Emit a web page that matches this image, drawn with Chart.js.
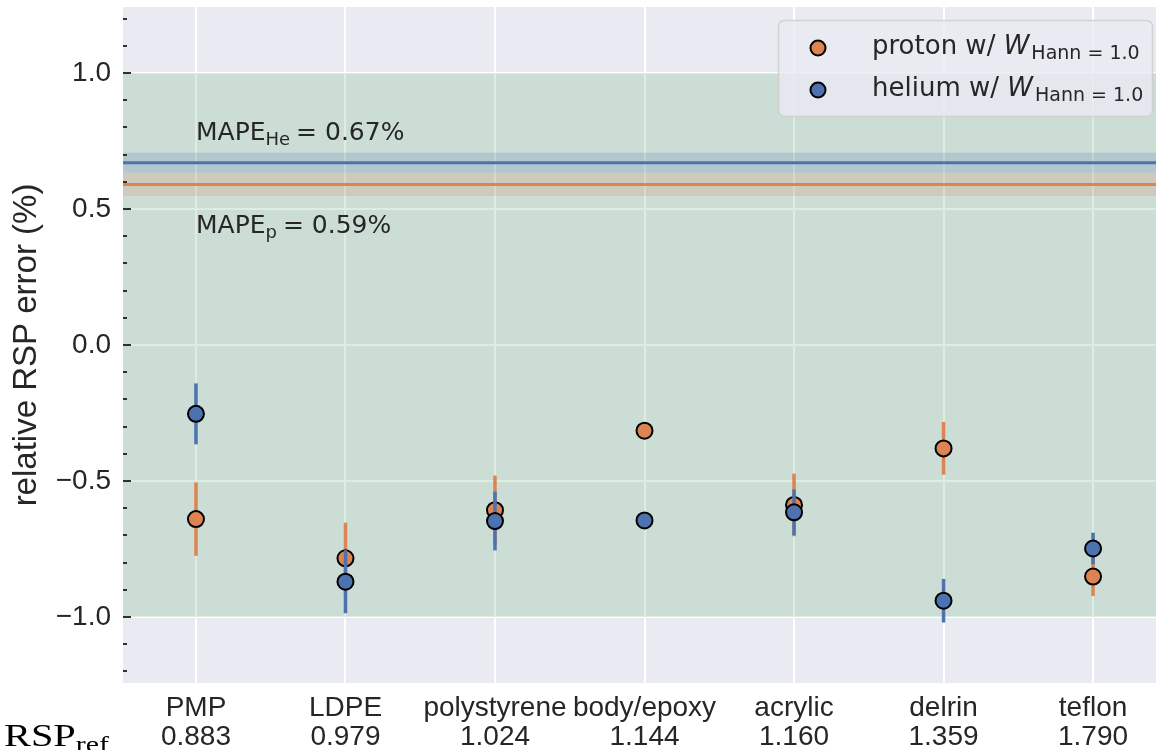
<!DOCTYPE html>
<html>
<head>
<meta charset="utf-8">
<script src="https://cdn.jsdelivr.net/npm/chart.js@4.4.1/dist/chart.umd.min.js"></script>
<style>
  html, body { margin: 0; padding: 0; background: #ffffff; }
  #wrap { width: 1156px; height: 750px; position: relative; }
</style>
</head>
<body>
<div id="wrap"><canvas id="chart" width="1156" height="750"></canvas></div>
<script>
// Phantom materials and their reference relative stopping power
const materials = ['PMP', 'LDPE', 'polystyrene', 'body/epoxy', 'acrylic', 'delrin', 'teflon'];
const rspRef = ['0.883', '0.979', '1.024', '1.144', '1.160', '1.359', '1.790'];

// Relative RSP error (%) and its uncertainty for each beam species
const protonError = [-0.640, -0.784, -0.607, -0.315, -0.588, -0.380, -0.851];
const protonUnc   = [0.135, 0.131, 0.127, 0.015, 0.115, 0.097, 0.072];
const heliumError = [-0.253, -0.870, -0.647, -0.645, -0.615, -0.940, -0.748];
const heliumUnc   = [0.112, 0.116, 0.108, 0.015, 0.084, 0.080, 0.058];

// Mean absolute percentage error per species and its spread
const mapeProton = 0.59;
const mapeProtonSpread = 0.042;
const mapeHelium = 0.67;
const mapeHeliumSpread = 0.037;

// Clinical tolerance band and axis ticks
const toleranceBand = [-1.0, 1.0];
const yTicks = [-1.0, -0.5, 0.0, 0.5, 1.0];
const yMinorStep = 0.1;

const seriesNames = ['proton', 'helium'];
const windowLabel = 'Hann = 1.0';

const ORANGE = '#DD8452';
const BLUE = '#4C72B0';
const TEXT = '#262626';
const SANS = '"Liberation Sans", Arial, sans-serif';
const MATH = '"DejaVu Sans", sans-serif';
const SERIF = '"Liberation Serif", "DejaVu Serif", serif';

const minus = s => s.replace('-', '\u2212');

// draw a run of text pieces (regular / subscript / italic) left to right
function drawRuns(ctx, x, y, runs, sx = 1) {
  ctx.textAlign = 'left';
  ctx.textBaseline = 'alphabetic';
  for (const r of runs) {
    ctx.font = r.font;
    ctx.save();
    ctx.translate(x, y + (r.dy || 0));
    ctx.scale(sx, 1);
    ctx.fillText(r.t, 0, 0);
    ctx.restore();
    x += (ctx.measureText(r.t).width + (r.gap || 0)) * sx;
  }
  return x;
}

const noAutoPadding = s => {
  s.paddingTop = 0; s.paddingBottom = 0; s.paddingLeft = 0; s.paddingRight = 0;
};

const backgroundPlugin = {
  id: 'panelBackground',
  beforeDraw(chart) {
    const { ctx, chartArea: a } = chart;
    ctx.save();
    ctx.fillStyle = '#ffffff';
    ctx.fillRect(0, 0, chart.width, chart.height);
    ctx.fillStyle = '#EAEAF2';
    ctx.fillRect(a.left, a.top, a.right - a.left, a.bottom - a.top);
    ctx.restore();
  }
};

const bandsPlugin = {
  id: 'bands',
  beforeDatasetsDraw(chart) {
    const { ctx, chartArea: a, scales: { y } } = chart;
    ctx.save();
    ctx.beginPath();
    ctx.rect(a.left, a.top, a.right - a.left, a.bottom - a.top);
    ctx.clip();
    const hband = (lo, hi, color) => {
      const y1 = y.getPixelForValue(hi), y2 = y.getPixelForValue(lo);
      ctx.fillStyle = color;
      ctx.fillRect(a.left, y1, a.right - a.left, y2 - y1);
    };
    hband(toleranceBand[0], toleranceBand[1], 'rgba(85,168,104,0.2)');
    hband(mapeHelium - mapeHeliumSpread, mapeHelium + mapeHeliumSpread, 'rgba(76,114,176,0.2)');
    hband(mapeProton - mapeProtonSpread, mapeProton + mapeProtonSpread, 'rgba(221,132,82,0.2)');
    const hline = (v, color) => {
      const py = y.getPixelForValue(v);
      ctx.strokeStyle = color;
      ctx.lineWidth = 3;
      ctx.beginPath();
      ctx.moveTo(a.left, py);
      ctx.lineTo(a.right, py);
      ctx.stroke();
    };
    hline(mapeHelium, BLUE);
    hline(mapeProton, ORANGE);
    ctx.restore();
  },
  afterDatasetsDraw(chart) {
    const { ctx, chartArea: a, scales: { x, y } } = chart;
    ctx.save();
    // minor and major tick marks along the left edge
    ctx.strokeStyle = '#2b312b';
    ctx.lineWidth = 2;
    for (let k = -12; k <= 12; k++) {
      const v = k * yMinorStep;
      const py = Math.round(y.getPixelForValue(v));
      const major = k % 5 === 0;
      ctx.beginPath();
      ctx.moveTo(a.left, py);
      ctx.lineTo(a.left + (major ? 8 : 4), py);
      ctx.stroke();
    }
    // MAPE annotations
    ctx.fillStyle = TEXT;
    const x0 = x.getPixelForValue(0);
    drawRuns(ctx, x0, y.getPixelForValue(mapeHelium) - 23, [
      { t: 'MAPE', font: '25px ' + MATH },
      { t: 'He', font: '18px ' + MATH, dy: 5, gap: 6 },
      { t: '= ' + mapeHelium.toFixed(2) + '%', font: '25px ' + MATH }
    ]);
    drawRuns(ctx, x0, y.getPixelForValue(mapeProton) + 49, [
      { t: 'MAPE', font: '25px ' + MATH },
      { t: 'p', font: '18px ' + MATH, dy: 5, gap: 6 },
      { t: '= ' + mapeProton.toFixed(2) + '%', font: '25px ' + MATH }
    ]);
    ctx.restore();
  },
  afterDraw(chart) {
    const { ctx } = chart;
    ctx.save();
    // legend
    const lx = 778.5, ly = 20.5, lw = 374, lh = 96;
    ctx.beginPath();
    ctx.roundRect(lx, ly, lw, lh, 6);
    ctx.fillStyle = 'rgba(234,234,242,0.8)';
    ctx.fill();
    ctx.strokeStyle = 'rgba(204,204,204,0.8)';
    ctx.lineWidth = 1.5;
    ctx.stroke();
    const colors = [ORANGE, BLUE];
    seriesNames.forEach((name, i) => {
      const cy = 48 + i * 42;
      ctx.beginPath();
      ctx.arc(818, cy, 7.5, 0, Math.PI * 2);
      ctx.fillStyle = colors[i];
      ctx.fill();
      ctx.lineWidth = 2;
      ctx.strokeStyle = '#000';
      ctx.stroke();
      ctx.fillStyle = TEXT;
      drawRuns(ctx, 872, cy + 6, [
        { t: name + ' w/ ', font: '26px ' + MATH },
        { t: 'W', font: 'italic 26px ' + MATH, gap: 2 },
        { t: windowLabel, font: '19px ' + MATH, dy: 5 }
      ]);
    });
    // reference RSP row caption
    ctx.fillStyle = '#000';
    drawRuns(ctx, 4, 746, [
      { t: 'RSP', font: '31px ' + SERIF },
      { t: 'ref', font: '23px ' + SERIF, dy: 6 }
    ], 1.3);
    ctx.restore();
  }
};

const errorBarPlugin = {
  id: 'errorBars',
  beforeDatasetDraw(chart, args) {
    const { ctx, chartArea: a, scales: { x, y } } = chart;
    const ds = chart.data.datasets[args.index];
    ctx.save();
    ctx.beginPath();
    ctx.rect(a.left, a.top, a.right - a.left, a.bottom - a.top);
    ctx.clip();
    ctx.strokeStyle = ds.backgroundColor;
    ctx.lineWidth = 3.5;
    ds.data.forEach((p, i) => {
      const px = x.getPixelForValue(p.x);
      ctx.beginPath();
      ctx.moveTo(px, y.getPixelForValue(p.y + ds.uncertainty[i]));
      ctx.lineTo(px, y.getPixelForValue(p.y - ds.uncertainty[i]));
      ctx.stroke();
    });
    ctx.restore();
  }
};

const toPoints = vals => vals.map((v, i) => ({ x: i, y: v }));

new Chart(document.getElementById('chart'), {
  type: 'scatter',
  data: {
    datasets: [
      {
        label: seriesNames[0],
        data: toPoints(protonError),
        uncertainty: protonUnc,
        backgroundColor: ORANGE,
        borderColor: '#000',
        borderWidth: 2,
        pointRadius: 8,
        order: 2
      },
      {
        label: seriesNames[1],
        data: toPoints(heliumError),
        uncertainty: heliumUnc,
        backgroundColor: BLUE,
        borderColor: '#000',
        borderWidth: 2,
        pointRadius: 8,
        order: 1
      }
    ]
  },
  options: {
    responsive: false,
    animation: false,
    layout: { autoPadding: false, padding: { top: 7, right: 0, left: 0, bottom: 0 } },
    plugins: {
      legend: { display: false },
      tooltip: { enabled: false }
    },
    scales: {
      x: {
        type: 'linear',
        min: -0.488,
        max: 6.421,
        afterBuildTicks: s => { s.ticks = materials.map((_, i) => ({ value: i })); },
        afterFit: s => { s.height = 67; noAutoPadding(s); },
        ticks: {
          autoSkip: false,
          maxRotation: 0,
          padding: 11,
          color: TEXT,
          font: { family: SANS, size: 28, lineHeight: '29px' },
          callback: (v, i) => [materials[i], rspRef[i]]
        },
        grid: { color: '#ffffff', lineWidth: 2, drawTicks: false },
        border: { display: false }
      },
      y: {
        min: -1.2424,
        max: 1.2424,
        afterBuildTicks: s => { s.ticks = yTicks.map(v => ({ value: v })); },
        afterFit: s => { s.width = 123; noAutoPadding(s); },
        ticks: {
          padding: 12,
          color: TEXT,
          font: { family: SANS, size: 28 },
          callback: v => minus(v.toFixed(1))
        },
        title: {
          display: true,
          text: 'relative RSP error (%)',
          color: TEXT,
          font: { family: SANS, size: 33, lineHeight: 1.2 },
          padding: { top: 7, bottom: 0 }
        },
        grid: { color: '#ffffff', lineWidth: 2, drawTicks: false },
        border: { display: false }
      }
    }
  },
  plugins: [backgroundPlugin, bandsPlugin, errorBarPlugin]
});
</script>
</body>
</html>
